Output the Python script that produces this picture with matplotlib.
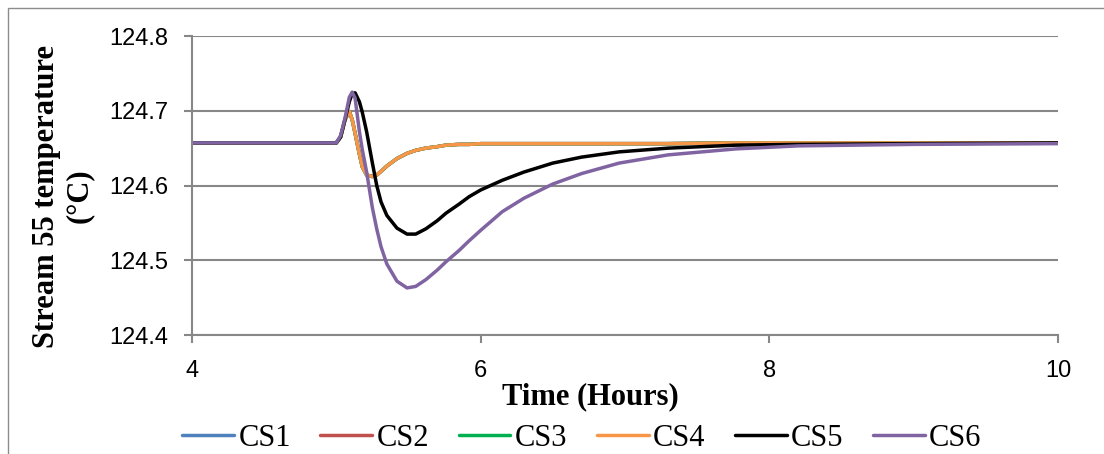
import matplotlib
matplotlib.use("Agg")
import matplotlib.pyplot as plt
from matplotlib.patches import Rectangle

# Data (time in hours, temperature in degC)
hours = [4.0, 5.0, 5.03, 5.06, 5.09, 5.11, 5.13, 5.16, 5.18, 5.21, 5.25, 5.28,
         5.31, 5.35, 5.42, 5.49, 5.55, 5.62, 5.7, 5.76, 5.85, 5.92, 6.0, 6.15,
         6.3, 6.5, 6.7, 6.96, 7.3, 7.77, 8.2, 9.0, 10.0]

# CS1-CS4 lie on top of each other
cs_fast = [124.657, 124.657, 124.665, 124.688, 124.699, 124.688, 124.670, 124.642,
           124.625, 124.614, 124.612, 124.614, 124.619, 124.626, 124.636, 124.643,
           124.647, 124.650, 124.652, 124.654, 124.655, 124.655, 124.656, 124.656,
           124.656, 124.656, 124.656, 124.656, 124.656, 124.657, 124.657, 124.657,
           124.657]
cs1 = list(cs_fast)
cs2 = list(cs_fast)
cs3 = list(cs_fast)
cs4 = list(cs_fast)

cs5 = [124.657, 124.657, 124.665, 124.688, 124.712, 124.723, 124.724, 124.712,
       124.698, 124.672, 124.630, 124.600, 124.578, 124.560, 124.543, 124.535,
       124.535, 124.542, 124.553, 124.563, 124.575, 124.585, 124.594, 124.607,
       124.618, 124.630, 124.638, 124.645, 124.650, 124.654, 124.655, 124.656,
       124.657]

cs6 = [124.657, 124.657, 124.667, 124.690, 124.718, 124.725, 124.717, 124.672,
       124.648, 124.618, 124.570, 124.542, 124.518, 124.495, 124.472, 124.463,
       124.465, 124.474, 124.487, 124.498, 124.513, 124.526, 124.540, 124.565,
       124.583, 124.602, 124.616, 124.630, 124.641, 124.649, 124.653, 124.655,
       124.656]

series = [("CS1", cs1, "#4F81BD"), ("CS2", cs2, "#C0504D"), ("CS3", cs3, "#00B050"),
          ("CS4", cs4, "#F79646"), ("CS5", cs5, "#000000"), ("CS6", cs6, "#8064A2")]

x_ticks = [4, 6, 8, 10]
y_ticks = [124.4, 124.5, 124.6, 124.7, 124.8]

GRID = "#878787"
SERIF = "Liberation Serif"

fig = plt.figure(figsize=(11.04, 4.54), dpi=100)
ax = fig.add_axes([0.1739, 0.2621, 0.7844, 0.6586])

# chart-area border (runs off the right and bottom of the image)
fig.patches.append(Rectangle((8 / 1104, -0.1), 1.2, 1 - 8 / 454 + 0.1,
                             transform=fig.transFigure, fill=False,
                             edgecolor="#8c8c8c", linewidth=1.0))

for name, vals, color in series:
    ax.plot(hours, vals, color=color, linewidth=2.5, label=name,
            solid_joinstyle="round", solid_capstyle="round")

ax.set_xlim(4, 10)
ax.set_ylim(124.4, 124.8)
ax.set_xticks(x_ticks)
ax.set_yticks(y_ticks)
ax.set_yticklabels([f"{v:.1f}" for v in y_ticks])

ax.grid(True, axis="y", color=GRID, linewidth=1.5)
ax.set_axisbelow(True)
for side in ["top", "right"]:
    ax.spines[side].set_visible(False)
for side in ["left", "bottom"]:
    ax.spines[side].set_color(GRID)
    ax.spines[side].set_linewidth(1.5)

ax.tick_params(axis="both", colors=GRID, width=1.5, length=6,
               labelcolor="black", labelsize=17)
ax.tick_params(axis="y", pad=11)
ax.tick_params(axis="x", pad=12)
for lab in ax.get_xticklabels() + ax.get_yticklabels():
    lab.set_fontfamily("Liberation Sans")

ax.set_xlabel("Time (Hours)", fontsize=22, fontweight="bold", family=SERIF,
              va="center")
ax.xaxis.set_label_coords((590 - 192) / 866, (335 - 397) / 299)
ax.set_ylabel("Stream 55 temperature\n(°C)", fontsize=22, fontweight="bold",
              family=SERIF, va="center", linespacing=1.2)
ax.yaxis.set_label_coords((63 - 192) / 866, (335 - 196) / 299)

ax.legend(loc="center", bbox_to_anchor=(582 / 1104, 1 - 438 / 454),
          bbox_transform=fig.transFigure, ncol=6, frameon=False,
          prop={"family": SERIF, "size": 22}, handlelength=1.7,
          handletextpad=0.15, columnspacing=0.95, borderpad=0)

fig.savefig("out.png", dpi=100, facecolor="white")
